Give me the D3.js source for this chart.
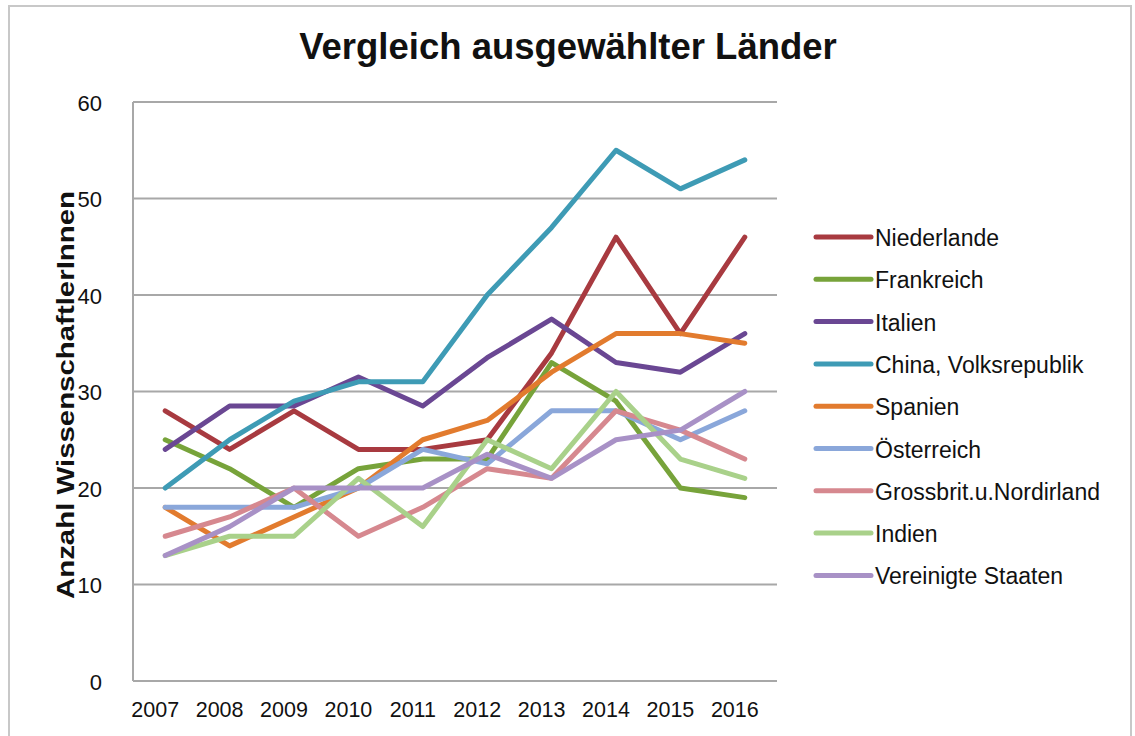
<!DOCTYPE html>
<html>
<head>
<meta charset="utf-8">
<script src="https://cdn.jsdelivr.net/npm/d3@7"></script>
<style>
  html, body { margin: 0; padding: 0; background: #fff; }
  svg { display: block; font-family: "Liberation Sans", Arial, sans-serif; }
</style>
</head>
<body>
<div id="chart"></div>
<script>
const years = ["2007", "2008", "2009", "2010", "2011", "2012", "2013", "2014", "2015", "2016"];
const yTicks = [0, 10, 20, 30, 40, 50, 60];

const countries = ["Niederlande", "Frankreich", "Italien", "China, Volksrepublik", "Spanien",
    "Österreich", "Grossbrit.u.Nordirland", "Indien", "Vereinigte Staaten"];
const colors = ["#a83a40", "#77a33a", "#6a4793", "#3e9bb5", "#e27b2e",
    "#8aa7da", "#d6888f", "#a9d18a", "#a891c6"];

const niederlande = [28, 24, 28, 24, 24, 25, 34, 46, 36, 46];
const frankreich  = [25, 22, 18, 22, 23, 23, 33, 29, 20, 19];
const italien     = [24, 28.5, 28.5, 31.5, 28.5, 33.5, 37.5, 33, 32, 36];
const china       = [20, 25, 29, 31, 31, 40, 47, 55, 51, 54];
const spanien     = [18, 14, 17, 20, 25, 27, 32, 36, 36, 35];
const oesterreich = [18, 18, 18, 20, 24, 22.5, 28, 28, 25, 28];
const grossbrit   = [15, 17, 20, 15, 18, 22, 21, 28, 26, 23];
const indien      = [13, 15, 15, 21, 16, 25, 22, 30, 23, 21];
const usa         = [13, 16, 20, 20, 20, 23.5, 21, 25, 26, 30];

const seriesValues = [niederlande, frankreich, italien, china, spanien, oesterreich, grossbrit, indien, usa];

const width = 1135, height = 736;
const plot = { left: 133, right: 777, top: 102, bottom: 681 };

const svg = d3.select("#chart").append("svg")
    .attr("width", width)
    .attr("height", height);

// outer frame
svg.append("rect")
    .attr("x", 9).attr("y", 6)
    .attr("width", 1122).attr("height", 740)
    .attr("fill", "none")
    .attr("stroke", "#c8c8c8")
    .attr("stroke-width", 2);

const x = d3.scaleBand().domain(years).range([plot.left, plot.right]);
const y = d3.scaleLinear().domain([0, 60]).range([plot.bottom, plot.top]);

// horizontal grid lines
svg.append("g")
    .selectAll("line")
    .data(yTicks)
    .enter()
    .append("line")
    .attr("x1", plot.left).attr("x2", plot.right)
    .attr("y1", d => y(d)).attr("y2", d => y(d))
    .attr("stroke", "#a8a8a8")
    .attr("stroke-width", 2);

// vertical axis line
svg.append("line")
    .attr("x1", plot.left).attr("x2", plot.left)
    .attr("y1", y(60)).attr("y2", y(0))
    .attr("stroke", "#a8a8a8")
    .attr("stroke-width", 2);

// y tick labels
svg.append("g")
    .selectAll("text")
    .data(yTicks)
    .enter()
    .append("text")
    .attr("x", 102)
    .attr("y", d => y(d) + 1)
    .attr("text-anchor", "end")
    .attr("dominant-baseline", "central")
    .style("font-size", "22px")
    .style("fill", "#111")
    .text(d => d);

// x tick labels
svg.append("g")
    .selectAll("text")
    .data(years)
    .enter()
    .append("text")
    .attr("x", d => x(d) + x.bandwidth() / 2 - 10)
    .attr("y", 717)
    .attr("text-anchor", "middle")
    .style("font-size", "21.5px")
    .style("fill", "#111")
    .text(d => d);

// title
svg.append("text")
    .attr("x", 568)
    .attr("y", 59)
    .attr("text-anchor", "middle")
    .style("font-size", "36.5px")
    .style("font-weight", "bold")
    .style("fill", "#111")
    .text("Vergleich ausgewählter Länder");

// y axis title
svg.append("text")
    .attr("transform", "translate(74,395) rotate(-90)")
    .attr("text-anchor", "middle")
    .attr("textLength", 408)
    .attr("lengthAdjust", "spacingAndGlyphs")
    .style("font-size", "23px")
    .style("font-weight", "bold")
    .style("fill", "#111")
    .text("Anzahl WissenschaftlerInnen");

// lines
const line = d3.line()
    .x((d, i) => x(years[i]) + x.bandwidth() / 2)
    .y(d => y(d));

svg.append("g")
    .selectAll("path")
    .data(seriesValues)
    .enter()
    .append("path")
    .attr("d", d => line(d))
    .attr("fill", "none")
    .attr("stroke", (d, i) => colors[i])
    .attr("stroke-width", 5)
    .attr("stroke-linejoin", "round")
    .attr("stroke-linecap", "round");

// legend
const legend = svg.append("g")
    .selectAll("g")
    .data(countries)
    .enter()
    .append("g")
    .attr("transform", (d, i) => `translate(816,${237 + i * 42.3})`);

legend.append("line")
    .attr("x1", 0).attr("x2", 55)
    .attr("y1", 0).attr("y2", 0)
    .attr("stroke", (d, i) => colors[i])
    .attr("stroke-width", 5)
    .attr("stroke-linecap", "round");

legend.append("text")
    .attr("x", 59)
    .attr("y", 1)
    .attr("dominant-baseline", "central")
    .style("font-size", "23px")
    .style("fill", "#111")
    .text(d => d);
</script>
</body>
</html>
